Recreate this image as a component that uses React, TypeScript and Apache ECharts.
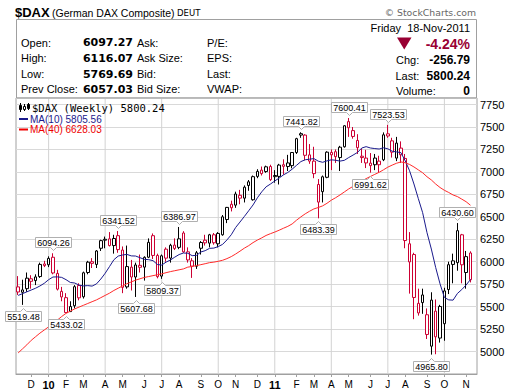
import React, { useEffect, useRef } from "react";
import * as echarts from "echarts";

// ---------- data ----------
const weeks = [
  "2009-11-20","2009-11-27","2009-12-04","2009-12-11","2009-12-18","2009-12-25",
  "2010-01-01","2010-01-08","2010-01-15","2010-01-22","2010-01-29",
  "2010-02-05","2010-02-12","2010-02-19","2010-02-26",
  "2010-03-05","2010-03-12","2010-03-19","2010-03-26",
  "2010-04-02","2010-04-09","2010-04-16","2010-04-23","2010-04-30",
  "2010-05-07","2010-05-14","2010-05-21","2010-05-28",
  "2010-06-04","2010-06-11","2010-06-18","2010-06-25",
  "2010-07-02","2010-07-09","2010-07-16","2010-07-23","2010-07-30",
  "2010-08-06","2010-08-13","2010-08-20","2010-08-27",
  "2010-09-03","2010-09-10","2010-09-17","2010-09-24",
  "2010-10-01","2010-10-08","2010-10-15","2010-10-22","2010-10-29",
  "2010-11-05","2010-11-12","2010-11-19","2010-11-26",
  "2010-12-03","2010-12-10","2010-12-17","2010-12-24","2010-12-31",
  "2011-01-07","2011-01-14","2011-01-21","2011-01-28",
  "2011-02-04","2011-02-11","2011-02-18","2011-02-25",
  "2011-03-04","2011-03-11","2011-03-18","2011-03-25",
  "2011-04-01","2011-04-08","2011-04-15","2011-04-22","2011-04-29",
  "2011-05-06","2011-05-13","2011-05-20","2011-05-27",
  "2011-06-03","2011-06-10","2011-06-17","2011-06-24",
  "2011-07-01","2011-07-08","2011-07-15","2011-07-22","2011-07-29",
  "2011-08-05","2011-08-12","2011-08-19","2011-08-26",
  "2011-09-02","2011-09-09","2011-09-16","2011-09-23","2011-09-30",
  "2011-10-07","2011-10-14","2011-10-21","2011-10-28",
  "2011-11-04","2011-11-11","2011-11-18",
];

const opens = [
  5720,5660,5700,5810,5790,5835,5975,5966,6050,5870,5670,5600,5445,5510,5735,5610,5880,6000,5970,6150,
  6240,6255,6180,6290,6130,5720,5940,5830,5960,5940,6050,6290,6070,5840,6140,6040,6185,6160,6320,6110,
  6010,5950,6150,6240,6207,6300,6200,6300,6470,6640,6630,6740,6708,6890,6690,6950,7020,7004,7060,6960,
  6950,7080,7060,7070,7216,7410,7410,7190,7120,6860,6780,6940,7190,7225,7160,7280,7560,7460,7350,7175,
  7154,7098,7080,7080,7135,7424,7346,7154,7265,7150,6200,6080,5430,5630,5410,5060,5450,5150,5310,5690,
  6010,5990,6300,5880,6097.27,
];
const highs = [
  5840,5800,5880,5850,5860,5990,6010,6060,6094.26,5910,5720,5650,5560,5740,5760,5890,6010,6040,6130,6245,
  6280,6330,6300,6341.52,6170,6180,6020,5990,6080,6060,6260,6315,6090,6080,6160,6200,6260,6386.97,6340,6160,
  6040,6120,6230,6300,6310,6320,6330,6520,6610,6680,6780,6800,6850,6910,6960,7030,7060,7070,7080,7020,
  7090,7140,7190,7220,7380,7441.82,7420,7310,7280,6920,6960,7230,7250,7250,7290,7520,7600.41,7500,7420,7260,
  7246,7210,7200,7180,7440,7523.53,7380,7390,7340,7200,6330,6100,5700,5700,5480,5660,5580,5520,5710,6000,
  6090,6430.6,6310,6120,6116.07,
];
const lows = [
  5630,5519.48,5665,5700,5740,5820,5940,5940,5860,5680,5560,5433.02,5440,5480,5570,5590,5860,5930,5930,6120,
  6150,6170,6090,6100,5650,5700,5680,5607.68,5880,5790,6040,6030,5815,5809.37,6000,5990,6130,6140,6100,5990,
  5820,5920,6080,6180,6160,6190,6160,6290,6430,6560,6600,6640,6660,6790,6680,6930,6960,6990,6900,6880,
  6860,6970,7010,7040,7200,7380,7130,7090,6930,6483.39,6660,6930,7020,7100,7010,7270,7390,7370,7200,7100,
  7043,6991.62,7020,6990,7120,7380,7160,7120,7100,6150,5645,5360,5400,5420,5140,4965.8,4970,5100,5120,5640,
  5760,5900,5760,5700,5769.69,
];
const closes = [
  5663,5686,5817,5782,5831,5970,5957,6037,5875,5695,5608,5434,5501,5722,5598,5877,5995,5982,6120,6235,
  6250,6180,6259,6135,5715,5946,5830,5964,5938,6049,6216,6070,5834,6066,6040,6183,6148,6255,6110,6020,
  5951,6100,6214,6210,6300,6211,6315,6500,6605,6601,6754,6708,6830,6849,6947,7006,6981,7057,6914,6947,
  7076,7062,7100,7216,7370,7426,7185,7120,6981,6664,6946,7220,7217,7170,7275,7514,7492,7395,7270,7160,
  7100,7070,7154,7120,7413,7400,7220,7321,7191,6236,5998,5602,5537,5545,5190,5573,5164,5502,5675,5967,
  5970,6346,5966,6057.03,5800.24,
];
const closeBeforeFirst = 5787;

const ma10Head = [5625, 5645, 5665, 5685, 5705, 5730, 5760, 5800, 5830];
const ma40Head = [
  4985,5030,5075,5125,5165,5205,5240,5275,5310,5350,5390,5425,5450,5475,5495,5515,5535,5555,5575,5600,
  5625,5650,5680,5705,5730,5755,5775,5795,5810,5825,5835,5845,5855,5865,5878,5890,5900,5910,5920,
];

const yMin = 4750;
const yMax = 7823;
const yStep = 250;

const annotations = [
  { i: 1, kind: "low" }, { i: 8, kind: "high" }, { i: 11, kind: "low" }, { i: 23, kind: "high" },
  { i: 27, kind: "low" }, { i: 33, kind: "low" }, { i: 37, kind: "high" }, { i: 65, kind: "high" },
  { i: 69, kind: "low" }, { i: 76, kind: "high" }, { i: 81, kind: "low" }, { i: 85, kind: "high" },
  { i: 95, kind: "low" }, { i: 101, kind: "high" },
];

const headerRows = [
  ["Open:", "6097.27", "Ask:", "P/E:"],
  ["High:", "6116.07", "Ask Size:", "EPS:"],
  ["Low:", "5769.69", "Bid:", "Last:"],
  ["Prev Close:", "6057.03", "Bid Size:", "VWAP:"],
];

const RED = "#cc0033";
const DARKRED = "#990033";
const NAVY = "#1a1a8c";
const MARED = "#ff2a2a";
const GRIDV = "#d2d2d2";
const LS = "Liberation Sans";
const DJ = "DejaVu Sans";
const monthLetters = ["J", "F", "M", "A", "M", "J", "J", "A", "S", "O", "N", "D"];

function mondayKey(d: string) {
  const t = new Date(d + "T00:00:00Z");
  t.setUTCDate(t.getUTCDate() - 4);
  return { y: t.getUTCFullYear(), m: t.getUTCMonth() };
}

export default function App() {
  const ref = useRef<HTMLDivElement>(null);
  useEffect(() => {
    if (!ref.current) return;
    const chart = echarts.init(ref.current, undefined, { renderer: "svg" });

    const cats = [...weeks, ""];
    const monthStart: boolean[] = cats.map(() => false);
    const quarterIdx: number[] = [];
    const labelText: string[] = cats.map(() => "");
    for (let i = 1; i < weeks.length; i++) {
      const a = mondayKey(weeks[i - 1]);
      const b = mondayKey(weeks[i]);
      if (a.m !== b.m) {
        monthStart[i] = true;
        labelText[i] = b.m === 0 ? "{y|" + String(b.y).slice(2) + "}" : monthLetters[b.m];
        if (b.m % 3 === 0) quarterIdx.push(i);
      }
    }

    const candleData = weeks.map((_, i) => {
      const o = opens[i], c = closes[i], l = lows[i], h = highs[i];
      const prev = i > 0 ? closes[i - 1] : closeBeforeFirst;
      const stroke = c >= prev ? "#000000" : RED;
      return {
        value: [o, c, l, h],
        itemStyle: { color: "#ffffff", color0: stroke, borderColor: stroke, borderColor0: stroke, borderWidth: 1 },
      };
    });

    const avg = (i: number, n: number) => {
      let s = 0;
      for (let k = i - n + 1; k <= i; k++) s += closes[k];
      return +(s / n).toFixed(2);
    };
    const ma10 = weeks.map((_, i) => (i < 9 ? ma10Head[i] : avg(i, 10)));
    const ma40 = weeks.map((_, i) => (i < 39 ? ma40Head[i] : avg(i, 40)));

    // vertical guide series: for each quarter start, a two-point segment from yMin to yMax
    const vData: any[] = [];
    quarterIdx.forEach((i) => {
      vData.push([i, yMin], [i, yMax], [i, null]);
    });

    chart.setOption({
      animation: false,
      backgroundColor: "#ffffff",
      grid: { left: 16, right: 43, top: 98, bottom: 17, show: true, borderColor: "#a0a0a0", borderWidth: 1, backgroundColor: "transparent" },
      xAxis: {
        type: "category",
        data: cats,
        boundaryGap: true,
        axisLine: { show: true, lineStyle: { color: "#a0a0a0" } },
        axisTick: { show: true, alignWithLabel: true, interval: (i: number) => monthStart[i], length: 3, inside: false, lineStyle: { color: "#a0a0a0" } },
        axisLabel: {
          interval: (i: number) => monthStart[i],
          formatter: (_v: string, i: number) => labelText[i],
          margin: 5,
          fontSize: 10,
          fontFamily: LS,
          color: "#000",
          rich: { y: { fontSize: 11, fontWeight: "bold", fontFamily: LS, color: "#000" } },
        },
        splitLine: { show: false },
      },
      yAxis: {
        type: "value",
        position: "right",
        min: yMin,
        max: yMax,
        interval: yStep,
        axisLine: { show: false },
        axisTick: { show: false },
        axisLabel: {
          showMinLabel: false,
          showMaxLabel: false,
          margin: 3,
          fontSize: 11,
          fontFamily: LS,
          color: "#000",
          formatter: (v: number) => (v % yStep === 0 && v > yMin ? String(v) : ""),
        },
        splitLine: { show: true, lineStyle: { color: "#d9d9d9", width: 1 } },
      },
      series: [
        {
          type: "line",
          data: vData,
          connectNulls: false,
          showSymbol: false,
          symbol: "none",
          silent: true,
          z: 1,
          lineStyle: { color: GRIDV, width: 1 },
          itemStyle: { color: GRIDV },
        },
        {
          type: "candlestick",
          data: candleData,
          barWidth: 3,
          z: 3,
        },
        {
          type: "line",
          data: ma10,
          showSymbol: false,
          symbol: "none",
          z: 4,
          lineStyle: { color: NAVY, width: 1 },
          itemStyle: { color: NAVY },
        },
        {
          type: "line",
          data: ma40,
          showSymbol: false,
          symbol: "none",
          z: 4,
          lineStyle: { color: MARED, width: 1 },
          itemStyle: { color: MARED },
        },
      ],
    });

    const T = (x: number, y: number, text: string, opt: any = {}) => ({
      type: "text",
      x,
      y,
      z: 100,
      silent: true,
      style: {
        text,
        fontSize: opt.size ?? 11,
        fontFamily: opt.family ?? LS,
        fontWeight: opt.weight ?? "normal",
        fill: opt.fill ?? "#000",
        textAlign: opt.align ?? "left",
        align: opt.align ?? "left",
        textVerticalAlign: "middle",
        verticalAlign: "middle",
      },
    });
    const ln = (x1: number, y1: number, x2: number, y2: number, stroke: string, w = 1, z = 100) => ({
      type: "line", z, silent: true, shape: { x1, y1, x2, y2 }, style: { stroke, lineWidth: w },
    });

    const g: any[] = [];
    // title
    g.push(T(15, 12, "$DAX", { weight: "bold", size: 13 }));
    g.push(T(52, 12.5, "(German DAX Composite)", { size: 10.5 }));
    g.push(T(177, 13, "DEUT", { family: DJ, size: 8.5 }));
    g.push(T(476, 12.5, "\u00A9 StockCharts.com", { family: DJ, size: 9.3, fill: "#666", align: "right" }));
    // header box
    g.push({ type: "rect", z: 100, silent: true, shape: { x: 16.5, y: 19.5, width: 460, height: 78.5 }, style: { fill: "none", stroke: "#a0a0a0", lineWidth: 1 } });
    const rowY = [42.7, 58.3, 74, 89.3];
    headerRows.forEach((r, k) => {
      g.push(T(21, rowY[k], r[0]));
      g.push(T(133, rowY[k], r[1], { family: DJ, weight: "bold", align: "right" }));
      g.push(T(137, rowY[k], r[2]));
      g.push(T(207, rowY[k], r[3]));
    });
    g.push(T(470, 28.3, "Friday  18-Nov-2011", { align: "right" }));
    g.push({ type: "polygon", z: 100, silent: true, shape: { points: [[397, 37.5], [411.5, 37.5], [404.25, 49.5]] }, style: { fill: DARKRED } });
    g.push(T(470, 43.5, "-4.24%", { weight: "bold", size: 14, fill: DARKRED, align: "right" }));
    g.push(T(396, 60.3, "Chg:"));
    g.push(T(470, 60.3, "-256.79", { weight: "bold", size: 12, align: "right" }));
    g.push(T(395.5, 75.7, "Last:"));
    g.push(T(470, 75.7, "5800.24", { weight: "bold", size: 12, align: "right" }));
    g.push(T(396, 91, "Volume:"));
    g.push(T(470, 91, "0", { weight: "bold", size: 12, align: "right" }));

    // legend
    g.push(ln(20.5, 103, 20.5, 112, "#000"));
    g.push({ type: "rect", z: 100, silent: true, shape: { x: 19.5, y: 105.5, width: 2, height: 4 }, style: { fill: "#000", stroke: "#000", lineWidth: 1 } });
    g.push(ln(24.5, 104, 24.5, 111, "#000"));
    g.push({ type: "rect", z: 100, silent: true, shape: { x: 23.5, y: 106.5, width: 2, height: 3 }, style: { fill: "#fff", stroke: "#000", lineWidth: 1 } });
    g.push(ln(28.5, 103, 28.5, 110, "#000"));
    g.push({ type: "rect", z: 100, silent: true, shape: { x: 27.5, y: 104.5, width: 2, height: 4 }, style: { fill: "#000", stroke: "#000", lineWidth: 1 } });
    g.push(T(32, 107.5, "$DAX (Weekly) 5800.24", { family: "DejaVu Sans Mono", size: 10.5 }));
    g.push(ln(19, 119, 28, 119, NAVY, 2));
    g.push(T(30, 119, "MA(10) 5805.56", { size: 10, fill: NAVY }));
    g.push(ln(19, 129.5, 28, 129.5, "#ee0000", 2));
    g.push(T(30, 129.5, "MA(40) 6628.03", { size: 10, fill: "#ee0000" }));

    // price annotations
    annotations.forEach((a) => {
      const v = a.kind === "high" ? highs[a.i] : lows[a.i];
      const p = chart.convertToPixel({ xAxisIndex: 0, yAxisIndex: 0 }, [a.i, v]) as number[];
      const cx = Math.round(p[0]) + 0.5;
      const w = 36, h = 10;
      const l = cx - w / 2, r = cx + w / 2;
      let pts: number[][];
      let ty: number;
      if (a.kind === "high") {
        const b = Math.round(p[1] - 6) + 0.5;
        const t = b - h;
        pts = [[l, t], [r, t], [r, b], [cx + 3, b], [cx, b + 3], [cx - 3, b], [l, b]];
        ty = (t + b) / 2 + 0.5;
      } else {
        const t = Math.round(p[1] + 6) + 0.5;
        const b = t + h;
        pts = [[l, t], [cx - 3, t], [cx, t - 3], [cx + 3, t], [r, t], [r, b], [l, b]];
        ty = (t + b) / 2 + 0.5;
      }
      g.push({ type: "polygon", z: 110, silent: true, shape: { points: pts }, style: { fill: "#fff", stroke: "#b0b0b0", lineWidth: 1 } });
      g.push({ ...T(cx, ty, v.toFixed(2), { size: 9, align: "center" }), z: 111 });
    });

    chart.setOption({ graphic: { elements: g } });

    return () => chart.dispose();
  }, []);

  return <div ref={ref} style={{ position: "absolute", left: 0, top: 0, width: 520, height: 391 }} />;
}
